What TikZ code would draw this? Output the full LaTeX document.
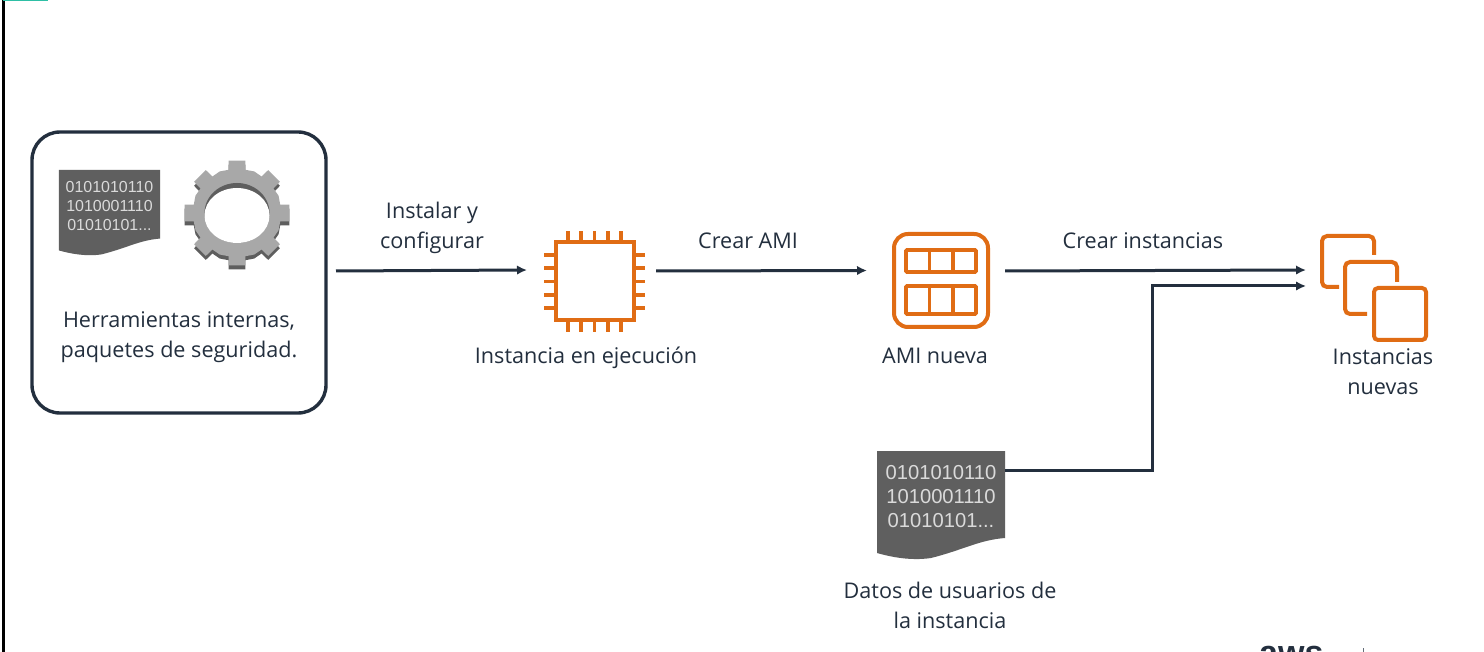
\documentclass[tikz,border=0pt]{standalone}
\usepackage{fontspec}
\setmainfont{Open Sans}
\newfontfamily\bitsfont{Liberation Sans}
\usetikzlibrary{arrows.meta}
\definecolor{ink}{HTML}{232F3E}
\definecolor{awsorange}{HTML}{E06C14}
\definecolor{docgray}{HTML}{5F5F5F}
\definecolor{bitsgray}{HTML}{DADADA}
\definecolor{gearlight}{HTML}{A8A8A8}
\definecolor{geardark}{HTML}{5E5E5E}
\definecolor{teal}{HTML}{2EBFA5}
\tikzset{
  x=1pt,y=-1pt,
  label text/.style={font=\fontsize{21.6}{30}\selectfont,text=ink,align=center,inner sep=0,outer sep=0},
  flow/.style={draw=ink,line width=3pt,-{Latex[length=10pt,width=9.5pt]}},
  orange line/.style={draw=awsorange,line width=4pt},
  pin line/.style={draw=awsorange,line width=3.8pt},
  anchor box/.style={rectangle,inner sep=0,outer sep=0},
}
\newcommand{\docicon}[4]{%
  \begin{scope}[shift={(#2,#3)},scale=#4,transform shape]
    \fill[docgray] (-64,-54) -- (64,-54) -- (64,33)
      .. controls (38,35) and (22,45) .. (-10,53)
      .. controls (-30,56) and (-50,52) .. (-64,48) -- cycle;
    \node[anchor box,minimum width=128pt,minimum height=108pt] (#1) at (0,0) {};
    \node[anchor box,font=\fontsize{20.2}{24}\bitsfont\selectfont,text=bitsgray,align=center] (#1bits) at (0,-8.5) {0101010110\\1010001110\\01010101...};
  \end{scope}}
\newcommand{\gearoutline}{%
  (-11:44) -- (-9:53) -- (9:53) -- (11:44) -- (22.5:45)
  -- (34:44) -- (36:53) -- (54:53) -- (56:44) -- (67.5:45)
  -- (79:44) -- (81:53) -- (99:53) -- (101:44) -- (112.5:45)
  -- (124:44) -- (126:53) -- (144:53) -- (146:44) -- (157.5:45)
  -- (169:44) -- (171:53) -- (189:53) -- (191:44) -- (202.5:45)
  -- (214:44) -- (216:53) -- (234:53) -- (236:44) -- (247.5:45)
  -- (259:44) -- (261:53) -- (279:53) -- (281:44) -- (292.5:45)
  -- (304:44) -- (306:53) -- (324:53) -- (326:44) -- (337.5:45) -- cycle}
\begin{document}
\begin{tikzpicture}
\useasboundingbox (0,0) rectangle (1484,652);
\clip (0,0) rectangle (1484,652);
\fill[white] (0,0) rectangle (1484,652);
% frame marks
\draw[black,line width=3pt] (3,0) -- (3,652);
\fill[teal] (3,0) rectangle (48,1.5);
% tools box
\node[anchor box,draw=ink,line width=3.4pt,rounded corners=28pt,minimum width=294pt,minimum height=281pt] (tools) at (179,272.5) {};
\docicon{tooldoc}{109.5}{212.5}{0.79}
\begin{scope}[shift={(237,213)}]
  \fill[geardark] [shift={(0,4)}] \gearoutline;
  \fill[gearlight] \gearoutline;
  \fill[geardark] (0,0) ellipse [x radius=32.5,y radius=30];
  \fill[white] (0,2.5) ellipse [x radius=32.5,y radius=27.5];
\end{scope}
\node[label text] (toolstext) at (179,337.5) {Herramientas internas,\\paquetes de seguridad.};
% chip
\node[anchor box,draw=awsorange,line width=4pt,minimum width=78pt,minimum height=78pt] (chip) at (594.5,281.5) {};
\foreach \d in {-26.6,-13.3,0,13.3,26.6}{
  \draw[pin line] ([xshift=\d pt]chip.north) -- ++(0,-11.5);
  \draw[pin line] ([xshift=\d pt]chip.south) -- ++(0,11.5);
  \draw[pin line] ([yshift=\d pt]chip.west) -- ++(-11.5,0);
  \draw[pin line] ([yshift=\d pt]chip.east) -- ++(11.5,0);
}
\node[label text] (chiptext) at (586,357.5) {Instancia en ejecución};
% AMI
\node[anchor box,draw=awsorange,line width=4pt,rounded corners=14pt,minimum width=94pt,minimum height=93pt] (ami) at (941,280.5) {};
\draw[pin line,rounded corners=1pt] (906,250) rectangle (976,272);
\draw[pin line,rounded corners=1pt] (906,286) rectangle (976,314);
\draw[pin line] (929.5,250) -- (929.5,272) (953,250) -- (953,272) (929.5,286) -- (929.5,314) (953,286) -- (953,314);
\node[label text] (amitext) at (935,356) {AMI nueva};
% instances
\node[anchor box,draw=awsorange,line width=4pt,rounded corners=4pt,minimum width=52pt,minimum height=52pt] (inst) at (1400,314) {};
\node[anchor box,minimum width=108pt,minimum height=108pt] (group) at (1374,288) {};
\draw[orange line,rounded corners=5pt] (1339,287) -- (1322,287) -- (1322,236) -- (1374,236) -- (1374,255);
\draw[orange line,rounded corners=5pt] (1367,314) -- (1345,314) -- (1345,262) -- (1397,262) -- (1397,282);
\node[label text] (insttext) at (1383,372) {Instancias\\nuevas};
% user data
\docicon{datos}{941}{505}{1}
\node[label text] (datostext) at (950,605) {Datos de usuarios de\\la instancia};
% connectors
\draw[flow] ([xshift=10pt,yshift=1.5pt]tools.east) -- ([xshift=-28.5pt,yshift=11.5pt]chip.west);
\draw[flow] ([xshift=22.5pt,yshift=10.5pt]chip.east) -- ([xshift=-27pt,yshift=10pt]ami.west);
\draw[flow] ([xshift=17pt,yshift=9.5pt]ami.east) -- ([xshift=-14pt,yshift=18pt]group.west);
\coordinate (bend) at (1152,470);
\draw[flow] ([yshift=35pt]datos.east) -- (bend) |- ([xshift=-14pt,yshift=2pt]group.west);
% connector labels
\node[label text] (l1) at (432,227.5) {Instalar y\\configurar};
\node[label text] (l2) at (748,241) {Crear AMI};
\node[label text] (l3) at (1143,241) {Crear instancias};
% cropped logo
\node[anchor=base west,inner sep=0,font=\fontsize{34}{34}\bitsfont\bfseries\selectfont,text=ink] (logo) at (1259,664) {aws};
\draw[ink!70,line width=1.2pt] (1363.5,648) -- (1363.5,652);
\end{tikzpicture}
\end{document}
